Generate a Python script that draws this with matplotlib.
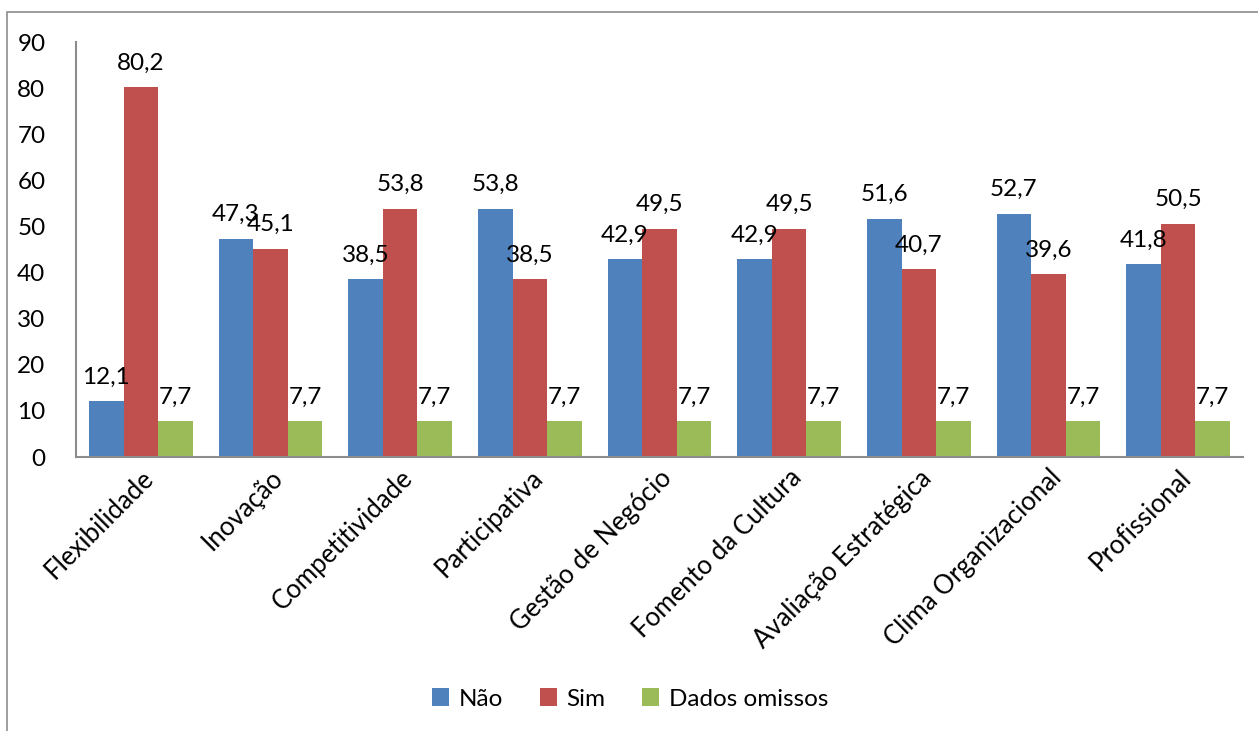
import matplotlib
matplotlib.use("Agg")
import matplotlib.pyplot as plt
import numpy as np
from matplotlib.patches import Rectangle

categories = ["Flexibilidade", "Inovação", "Competitividade", "Participativa",
              "Gestão de Negócio", "Fomento da Cultura", "Avaliação Estratégica",
              "Clima Organizacional", "Profissional"]
nao = [12.1, 47.3, 38.5, 53.8, 42.9, 42.9, 51.6, 52.7, 41.8]
sim = [80.2, 45.1, 53.8, 38.5, 49.5, 49.5, 40.7, 39.6, 50.5]
omissos = [7.7, 7.7, 7.7, 7.7, 7.7, 7.7, 7.7, 7.7, 7.7]
series_names = ["Não", "Sim", "Dados omissos"]
colors = ["#4F81BD", "#C0504D", "#9BBB59"]

plt.rcParams['font.family'] = ['Lato', 'DejaVu Sans']
FS = 17.5
W, H = 1258, 731
fig = plt.figure(figsize=(W/100, H/100), dpi=100)
fig.patches.append(Rectangle((7/W, -0.1), 1.2, 1 - 12/H + 0.1, transform=fig.transFigure,
                             fill=False, edgecolor="#8c8c8c", linewidth=1.2))
ax = fig.add_axes([76/W, 1 - 457/H, (1243-76)/W, (457-42)/H])

x = np.arange(len(categories))
bw = 0.267
for i, (vals, name, c) in enumerate(zip([nao, sim, omissos], series_names, colors)):
    pos = x + (i - 1) * bw
    ax.bar(pos, vals, bw, color=c, label=name)
    for p, v in zip(pos, vals):
        ax.text(p, v + 3.0, f"{v:.1f}".replace(".", ","), ha="center", va="bottom", fontsize=FS)

ax.set_xlim(-0.5, len(categories) - 0.5)
ax.set_ylim(0, 90)
ax.set_yticks(range(0, 91, 10))
ax.tick_params(axis="y", length=0, labelsize=FS, pad=22)
ax.tick_params(axis="x", length=0, labelsize=18.5, pad=6)
ax.set_xticks(x)
ax.set_xticklabels(categories, rotation=45, ha="right", rotation_mode="anchor")
for s in ["top", "right"]:
    ax.spines[s].set_visible(False)
for s in ["left", "bottom"]:
    ax.spines[s].set_color("#8c8c8c")
    ax.spines[s].set_linewidth(1.5)

fig.legend(loc="center", bbox_to_anchor=(630/W, 1 - 699/H), ncol=3, frameon=False,
           fontsize=FS, handlelength=0.7, handleheight=0.7, columnspacing=1.5, handletextpad=0.4)

fig.savefig("out.png", dpi=100)
